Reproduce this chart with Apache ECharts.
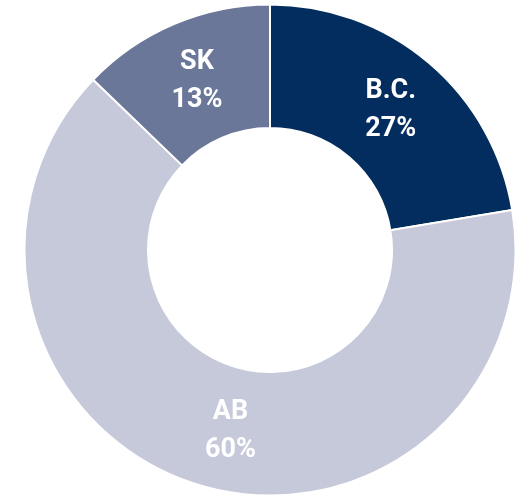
<!DOCTYPE html>
<html>
<head>
<meta charset="utf-8">
<script src="https://cdn.jsdelivr.net/npm/echarts@6/dist/echarts.min.js"></script>
<style>
html, body { margin: 0; padding: 0; background: #fff; }
#main { width: 522px; height: 497px; }
</style>
</head>
<body>
<div id="main"></div>
<script>
// 省份占比
var names  = ['B.C.', 'AB', 'SK'];
var shares = [22.4, 64.8, 12.8];
var pctText = ['27%', '60%', '13%'];
var colors = ['#032d5e', '#c5c9da', '#6a7799'];

var data = [];
for (var i in names) {
    data.push({value: shares[i], name: names[i], itemStyle: {color: colors[i]}});
}

var chart = echarts.init(document.getElementById('main'));

var option = {
    animation: false,
    series: [
        {
            type: 'pie',
            center: [270, 250],
            radius: [122, 245.5],
            startAngle: 90,
            clockwise: true,
            itemStyle: {
                borderColor: '#fff',
                borderWidth: 2
            },
            label: {
                show: true,
                position: 'inside',
                color: '#fff',
                fontFamily: 'Roboto',
                fontWeight: 'bold',
                fontSize: 27,
                lineHeight: 38,
                formatter: function (p) {
                    return p.name + '\n' + pctText[p.dataIndex];
                }
            },
            labelLayout: function (p) {
                // AB 标签稍微右移
                if (p.dataIndex === 1) {
                    return {dx: 16, dy: 3};
                }
                return {dy: 3};
            },
            labelLine: { show: false },
            emphasis: { disabled: true },
            data: data
        }
    ]
};

chart.setOption(option, true);
</script>
</body>
</html>
